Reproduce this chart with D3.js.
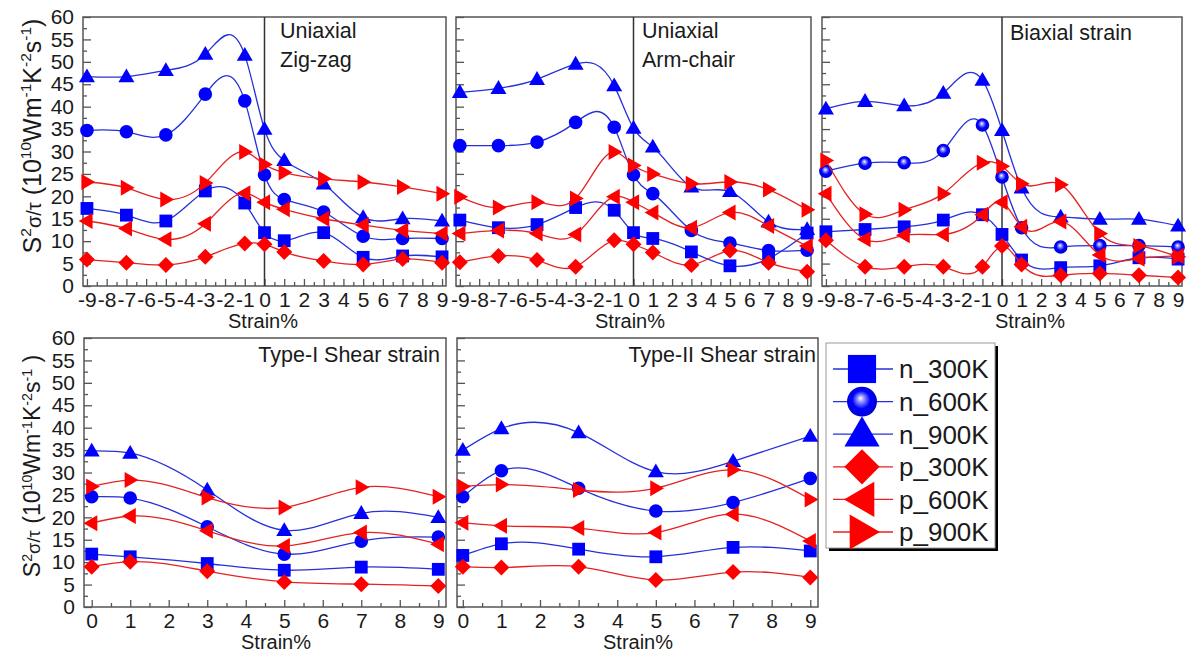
<!DOCTYPE html>
<html>
<head>
<meta charset="utf-8">
<script src="https://cdn.jsdelivr.net/npm/d3@7"></script>
<style>
  body { margin: 0; background: #fff; }
  svg { display: block; font-family: "Liberation Sans", Arial, sans-serif; }
</style>
</head>
<body>
<svg id="chart" width="1193" height="656"></svg>
<script>
// strain points (%)
const strainUniaxial = [-9, -7, -5, -3, -1, 0, 1, 3, 5, 7, 9];
const strainShear = [0, 1, 3, 5, 7, 9];
const seriesNames = ['n_300K', 'n_600K', 'n_900K', 'p_300K', 'p_600K', 'p_900K'];

// S^2 sigma/tau values, one row per series (same order as seriesNames)
const zigzagValues = [
    [17.3, 15.8, 14.5, 21.2, 18.5, 11.9, 10.1, 11.9, 6.4, 6.7, 6.5],
    [34.7, 34.4, 33.7, 42.8, 41.3, 24.8, 19.3, 16.5, 11.1, 10.6, 10.6],
    [46.7, 46.7, 48.1, 51.7, 51.5, 35.0, 28.0, 22.8, 15.3, 15.0, 14.5],
    [5.9, 5.2, 4.7, 6.5, 9.5, 9.3, 7.6, 5.6, 4.8, 6.0, 5.2],
    [14.5, 12.8, 10.4, 13.9, 20.7, 18.7, 17.1, 15.0, 13.6, 12.4, 11.7],
    [23.2, 21.9, 19.3, 23.0, 29.9, 27.1, 25.3, 23.9, 23.2, 22.1, 20.6]
];
const armchairValues = [
    [14.7, 13.0, 13.7, 17.5, 16.9, 11.9, 10.6, 7.6, 4.5, 6.1, 11.8],
    [31.3, 31.3, 32.1, 36.5, 35.4, 24.8, 20.6, 12.4, 9.6, 7.9, 8.0],
    [43.2, 44.1, 46.1, 49.5, 44.7, 35.2, 31.0, 22.1, 21.1, 14.3, 12.6],
    [5.3, 6.7, 5.8, 4.3, 10.2, 9.3, 7.5, 4.7, 7.9, 5.2, 3.2],
    [11.7, 12.4, 11.7, 11.5, 19.9, 18.7, 16.4, 13.0, 16.4, 13.4, 8.9],
    [19.9, 17.5, 18.7, 19.5, 29.9, 26.9, 25.0, 22.8, 23.2, 21.5, 17.0]
];
const biaxialValues = [
    [12.1, 12.6, 13.2, 14.7, 15.9, 11.5, 5.8, 4.1, 4.5, 6.3, 6.0],
    [25.6, 27.4, 27.5, 30.2, 35.9, 24.3, 13.0, 8.7, 9.0, 9.0, 8.7],
    [39.5, 41.2, 40.2, 43.0, 45.9, 34.7, 21.9, 15.4, 14.9, 14.9, 13.4],
    [10.2, 4.3, 4.3, 4.3, 4.3, 8.9, 4.8, 2.4, 2.8, 2.4, 1.9],
    [20.6, 10.4, 11.3, 11.5, 15.9, 18.7, 13.2, 14.4, 6.9, 6.1, 6.7],
    [28.0, 16.0, 17.0, 20.6, 27.5, 26.7, 22.8, 22.6, 11.7, 8.9, 6.5]
];
const shear1Values = [
    [11.8, 11.2, 9.7, 8.2, 8.9, 8.4],
    [24.6, 24.3, 17.9, 11.8, 14.7, 15.6],
    [34.8, 34.3, 26.1, 17.1, 20.9, 20.0],
    [9.0, 10.1, 8.0, 5.6, 5.1, 4.7],
    [18.7, 20.3, 17.0, 13.6, 16.6, 14.0],
    [26.9, 28.3, 24.4, 22.2, 26.7, 24.6]
];
const shear2Values = [
    [11.5, 14.1, 12.9, 11.2, 13.3, 12.5],
    [24.6, 30.4, 26.5, 21.4, 23.3, 28.7],
    [35.0, 39.8, 38.9, 30.2, 32.5, 38.1],
    [9.0, 8.8, 9.0, 6.0, 7.8, 6.6],
    [18.8, 18.1, 17.6, 16.6, 20.7, 14.7],
    [26.9, 27.3, 26.1, 26.5, 30.6, 24.0]
];
const yTicks = d3.range(0, 61, 5);

const blue = '#0000ff', red = '#ff0000';
const markerColor = [blue, blue, blue, red, red, red];
const lineColor = ['#2630d8', '#2630d8', '#2630d8', '#e52222', '#e52222', '#e52222'];
const markerShape = ['square', 'circle', 'triangle', 'diamond', 'left', 'right'];

// natural cubic spline in x (like Origin's spline connector), as a d3 curve
function NaturalX(context) { this._context = context; }
NaturalX.prototype = {
    areaStart() {}, areaEnd() {},
    lineStart() { this._x = []; this._y = []; },
    point(x, y) { this._x.push(+x); this._y.push(+y); },
    lineEnd() {
        const xs = this._x, ys = this._y, n = xs.length, ctx = this._context;
        if (!n) return;
        ctx.moveTo(xs[0], ys[0]);
        if (n === 2) { ctx.lineTo(xs[1], ys[1]); return; }
        const h = [], M = new Array(n).fill(0);
        for (let i = 0; i < n - 1; i++) h[i] = xs[i + 1] - xs[i];
        const a = [], b = [], c = [], r = [];
        for (let i = 1; i < n - 1; i++) {
            a[i] = h[i - 1]; b[i] = 2 * (h[i - 1] + h[i]); c[i] = h[i];
            r[i] = 6 * ((ys[i + 1] - ys[i]) / h[i] - (ys[i] - ys[i - 1]) / h[i - 1]);
        }
        for (let i = 2; i < n - 1; i++) {
            const w = a[i] / b[i - 1];
            b[i] -= w * c[i - 1];
            r[i] -= w * r[i - 1];
        }
        for (let i = n - 2; i >= 1; i--) M[i] = (r[i] - c[i] * M[i + 1]) / b[i];
        for (let i = 0; i < n - 1; i++) {
            const hi = h[i], s = (ys[i + 1] - ys[i]) / hi;
            const m0 = s - hi * (2 * M[i] + M[i + 1]) / 6;
            const m1 = s + hi * (M[i] + 2 * M[i + 1]) / 6;
            ctx.bezierCurveTo(xs[i] + hi / 3, ys[i] + m0 * hi / 3,
                xs[i + 1] - hi / 3, ys[i + 1] - m1 * hi / 3, xs[i + 1], ys[i + 1]);
        }
    }
};
const curveNaturalX = ctx => new NaturalX(ctx);

const svg = d3.select('#chart');

const defs = svg.append('defs');
const grad = defs.append('radialGradient').attr('id', 'sphere')
    .attr('cx', '0.5').attr('cy', '0.5').attr('r', '0.6').attr('fx', '0.45').attr('fy', '0.38');
grad.append('stop').attr('offset', '0').attr('stop-color', '#ffffff');
grad.append('stop').attr('offset', '0.18').attr('stop-color', '#9a9aff');
grad.append('stop').attr('offset', '0.5').attr('stop-color', '#0000ff');
grad.append('stop').attr('offset', '1').attr('stop-color', '#0000c8');

// marker path centred at 0,0; k scales the size
function markerPath(shape, k) {
    const p = d3.path();
    if (shape === 'square') {
        const s = 6.4 * k;
        p.rect(-s, -s, 2 * s, 2 * s);
    } else if (shape === 'circle') {
        p.arc(0, 0, 6.8 * k, 0, 2 * Math.PI);
    } else if (shape === 'triangle') {
        p.moveTo(0, -8.2 * k); p.lineTo(8 * k, 5.6 * k); p.lineTo(-8 * k, 5.6 * k); p.closePath();
    } else if (shape === 'diamond') {
        p.moveTo(0, -8 * k); p.lineTo(8 * k, 0); p.lineTo(0, 8 * k); p.lineTo(-8 * k, 0); p.closePath();
    } else if (shape === 'left') {
        p.moveTo(-8.2 * k, 0); p.lineTo(5.6 * k, -8 * k); p.lineTo(5.6 * k, 8 * k); p.closePath();
    } else {
        p.moveTo(8.2 * k, 0); p.lineTo(-5.6 * k, -8 * k); p.lineTo(-5.6 * k, 8 * k); p.closePath();
    }
    return p.toString();
}

const panels = [
    { x0: 83, x1: 446, y0: 17, y1: 286, xDomain: [-9.2, 9.2], strain: strainUniaxial, values: zigzagValues,
      yLabels: true, zeroLine: true, title: ['Uniaxial', 'Zig-zag'], titleX: 280, titleAnchor: 'start', titleY: 38, xLabelX: 263, sphere: false },
    { x0: 456, x1: 811, y0: 17, y1: 286, xDomain: [-9.2, 9.2], strain: strainUniaxial, values: armchairValues,
      yLabels: false, zeroLine: true, title: ['Uniaxial', 'Arm-chair'], titleX: 642, titleAnchor: 'start', titleY: 38, xLabelX: 630, sphere: false },
    { x0: 822, x1: 1182, y0: 17, y1: 286, xDomain: [-9.2, 9.2], strain: strainUniaxial, values: biaxialValues,
      yLabels: false, zeroLine: true, title: ['Biaxial strain'], titleX: 1010, titleAnchor: 'start', titleY: 40, xLabelX: 1030, sphere: true },
    { x0: 84, x1: 446, y0: 338, y1: 607, xDomain: [-0.2, 9.2], strain: strainShear, values: shear1Values,
      yLabels: true, zeroLine: false, title: ['Type-I Shear strain'], titleX: 440, titleAnchor: 'end', titleY: 362, xLabelX: 276, sphere: false },
    { x0: 457, x1: 818, y0: 338, y1: 607, xDomain: [-0.15, 9.2], strain: strainShear, values: shear2Values,
      yLabels: false, zeroLine: false, title: ['Type-II Shear strain'], titleX: 816, titleAnchor: 'end', titleY: 362, xLabelX: 638, sphere: false }
];

const frameColor = '#555';

panels.forEach(pn => {
    const x = d3.scaleLinear().domain(pn.xDomain).range([pn.x0, pn.x1]);
    const y = d3.scaleLinear().domain([0, 60]).range([pn.y1, pn.y0]);
    const g = svg.append('g');

    // x axis: major ticks on integers, minor on halves, pointing inward
    const xMajor = d3.range(Math.ceil(pn.xDomain[0]), Math.floor(pn.xDomain[1]) + 1);
    const xMinor = xMajor.slice(0, -1).map(v => v + 0.5);
    g.append('g').attr('transform', `translate(0,${pn.y1})`)
        .call(d3.axisBottom(x).tickValues(xMajor).tickSize(-7).tickPadding(6).tickFormat(d => String(d)));
    g.append('g').attr('transform', `translate(0,${pn.y1})`)
        .call(d3.axisBottom(x).tickValues(xMinor).tickSize(-4).tickFormat(''));

    // y axis
    g.append('g').attr('transform', `translate(${pn.x0},0)`)
        .call(d3.axisLeft(y).tickValues(yTicks).tickSize(-8).tickPadding(9).tickFormat(pn.yLabels ? d3.format('d') : ''));
    g.append('g').attr('transform', `translate(${pn.x0},0)`)
        .call(d3.axisLeft(y).tickValues(yTicks.slice(0, -1).map(v => v + 2.5)).tickSize(-4).tickFormat(''));

    g.selectAll('.domain').remove();
    g.selectAll('.tick line').attr('stroke', frameColor).attr('stroke-width', 1.3);
    g.selectAll('.tick text').attr('font-size', 21).attr('fill', '#1a1a1a')
        .attr('font-family', '"Liberation Sans", Arial, sans-serif');

    // frame
    g.append('rect')
        .attr('x', pn.x0).attr('y', pn.y0)
        .attr('width', pn.x1 - pn.x0).attr('height', pn.y1 - pn.y0)
        .attr('fill', 'none').attr('stroke', frameColor).attr('stroke-width', 1.5);

    if (pn.zeroLine) {
        g.append('line')
            .attr('x1', x(0)).attr('x2', x(0))
            .attr('y1', pn.y0).attr('y2', pn.y1)
            .attr('stroke', '#333').attr('stroke-width', 1.5);
    }

    // series: line then markers, in legend order
    const line = d3.line().x(d => x(d[0])).y(d => y(d[1])).curve(curveNaturalX);
    pn.values.forEach((vals, i) => {
        const pts = pn.strain.map((s, j) => [s, vals[j]]);
        g.append('path')
            .attr('d', line(pts))
            .attr('fill', 'none')
            .attr('stroke', lineColor[i])
            .attr('stroke-width', 1.3);
        g.selectAll(null).data(pts).enter().append('path')
            .attr('transform', d => `translate(${x(d[0])},${y(d[1])})`)
            .attr('d', markerPath(markerShape[i], 1))
            .attr('fill', (pn.sphere && markerShape[i] === 'circle') ? 'url(#sphere)' : markerColor[i]);
    });

    // panel title
    const t = g.append('text')
        .attr('x', pn.titleX).attr('y', pn.titleY)
        .attr('text-anchor', pn.titleAnchor)
        .attr('font-size', 21.5).attr('fill', '#1a1a1a');
    pn.title.forEach((s, i) => {
        t.append('tspan').attr('x', pn.titleX).attr('dy', i === 0 ? 0 : 29).text(s);
    });

    // x title
    g.append('text')
        .attr('x', pn.xLabelX).attr('y', pn.y1 + 42)
        .attr('text-anchor', 'middle')
        .attr('font-size', 20).attr('fill', '#1a1a1a')
        .text('Strain%');
});

// y axis titles
function yTitle(cx, cy, size, spaceBeforeParen) {
    const t = svg.append('text')
        .attr('transform', `translate(${cx},${cy}) rotate(-90)`)
        .attr('text-anchor', 'middle')
        .attr('font-size', size).attr('fill', '#1a1a1a');
    const sup = (s) => t.append('tspan').attr('font-size', size * 0.62).attr('baseline-shift', '60%').text(s);
    const norm = (s, f) => t.append('tspan').attr('font-size', size * (f || 1)).text(s);
    norm('S');
    sup('2');
    norm('σ/τ', 0.8);
    norm(' (10');
    sup('10');
    norm('Wm');
    sup('-1');
    norm('K');
    sup('-2');
    norm('s');
    sup('-1');
    norm(spaceBeforeParen ? ' )' : ')');
}
yTitle(41, 136, 25, false);
yTitle(40, 466, 23, true);

// legend
const lg = svg.append('g');
const lx = 826, ly = 343, lw = 169, lh = 205;
lg.append('rect').attr('x', lx + 3).attr('y', ly + 3).attr('width', lw).attr('height', lh).attr('fill', '#000');
lg.append('rect').attr('x', lx).attr('y', ly).attr('width', lw).attr('height', lh)
    .attr('fill', '#fff').attr('stroke', '#999').attr('stroke-width', 1);
const legendY = d3.scalePoint().domain(seriesNames).range([369, 532]);
seriesNames.forEach((name, i) => {
    const yy = legendY(name);
    lg.append('line').attr('x1', 833).attr('x2', 893).attr('y1', yy).attr('y2', yy)
        .attr('stroke', lineColor[i]).attr('stroke-width', 1.3);
    lg.append('path')
        .attr('transform', `translate(862,${yy})`)
        .attr('d', markerPath(markerShape[i], 2.2))
        .attr('fill', markerShape[i] === 'circle' ? 'url(#sphere)' : markerColor[i]);
    lg.append('text').attr('x', 899).attr('y', yy).attr('dy', '0.36em')
        .attr('font-size', 26).attr('fill', '#1a1a1a').text(name);
});
</script>
</body>
</html>
